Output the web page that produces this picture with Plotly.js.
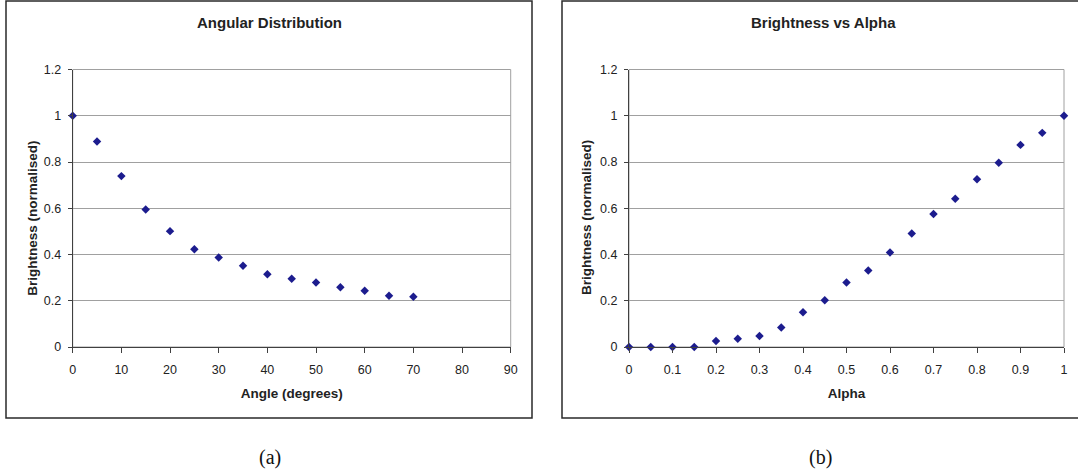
<!DOCTYPE html>
<html>
<head>
<meta charset="utf-8">
<script src="https://cdn.plot.ly/plotly-3.0.1.min.js"></script>
<style>
  html, body { margin: 0; padding: 0; background: #ffffff; }
  #chart { width: 1078px; height: 469px; }
</style>
</head>
<body>
<div id="chart"></div>
<script>
// ---- Data ----
const angleDeg = [0, 5, 10, 15, 20, 25, 30, 35, 40, 45, 50, 55, 60, 65, 70];
const angleBrightness = [1.0, 0.889, 0.739, 0.595, 0.501, 0.423, 0.387, 0.351, 0.315, 0.295, 0.279, 0.258, 0.243, 0.222, 0.217];

const alphaVals = [0, 0.05, 0.1, 0.15, 0.2, 0.25, 0.3, 0.35, 0.4, 0.45, 0.5, 0.55, 0.6, 0.65, 0.7, 0.75, 0.8, 0.85, 0.9, 0.95, 1.0];
const alphaBrightness = [0, 0, 0, 0, 0.026, 0.036, 0.048, 0.084, 0.150, 0.202, 0.279, 0.331, 0.409, 0.491, 0.575, 0.641, 0.725, 0.797, 0.874, 0.926, 1.0];

const angleTicks = [0, 10, 20, 30, 40, 50, 60, 70, 80, 90];
const angleTickText = ['0', '10', '20', '30', '40', '50', '60', '70', '80', '90'];
const alphaTicks = [0, 0.1, 0.2, 0.3, 0.4, 0.5, 0.6, 0.7, 0.8, 0.9, 1];
const alphaTickText = ['0', '0.1', '0.2', '0.3', '0.4', '0.5', '0.6', '0.7', '0.8', '0.9', '1'];
const brightTicks = [0, 0.2, 0.4, 0.6, 0.8, 1, 1.2];
const brightTickText = ['0', '0.2', '0.4', '0.6', '0.8', '1', '1.2'];

const titleA = 'Angular Distribution';
const titleB = 'Brightness vs Alpha';
const xTitleA = 'Angle (degrees)';
const xTitleB = 'Alpha';
const yTitle = 'Brightness (normalised)';
const captionA = '(a)';
const captionB = '(b)';

// ---- Layout helpers ----
const W = 1078, H = 469;
const px = x => x / W;
const py = y => 1 - y / H;

const FONT = '"Liberation Sans", Arial, sans-serif';
const markerColor = '#1c1c8e';

const traces = [
  {
    x: angleDeg, y: angleBrightness, xaxis: 'x', yaxis: 'y',
    type: 'scatter', mode: 'markers', cliponaxis: false,
    marker: { symbol: 'diamond', size: 6.5, color: markerColor },
    hoverinfo: 'x+y'
  },
  {
    x: alphaVals, y: alphaBrightness, xaxis: 'x2', yaxis: 'y2',
    type: 'scatter', mode: 'markers', cliponaxis: false,
    marker: { symbol: 'diamond', size: 6.5, color: markerColor },
    hoverinfo: 'x+y'
  }
];

function xAxis(domain, range, tv, tt, title) {
  return {
    domain: domain, range: range, tickvals: tv, ticktext: tt,
    showgrid: false, zeroline: false,
    showline: true, linecolor: '#404040', linewidth: 1,
    ticks: 'outside', ticklen: 5, tickwidth: 1, tickcolor: '#404040',
    ticklabelstandoff: 6,
    tickfont: { family: FONT, size: 12.5, color: '#222222' },
    title: { text: title, font: { family: FONT, size: 13.5, color: '#222222', weight: 'bold' }, standoff: 12 },
    fixedrange: true
  };
}
function yAxis(domain, anchor) {
  return {
    domain: domain, range: [0, 1.2], tickvals: brightTicks, ticktext: brightTickText,
    anchor: anchor,
    showgrid: true, gridcolor: '#a0a0a0', gridwidth: 1,
    zeroline: false,
    showline: true, linecolor: '#404040', linewidth: 1,
    ticks: 'outside', ticklen: 4, tickwidth: 1, tickcolor: '#404040',
    ticklabelstandoff: 4,
    tickfont: { family: FONT, size: 12.5, color: '#222222' },
    fixedrange: true
  };
}

const yDom = [py(347), py(69.5)];

const layout = {
  width: W, height: H,
  margin: { l: 0, r: 0, t: 0, b: 0, pad: 0 },
  paper_bgcolor: '#ffffff', plot_bgcolor: '#ffffff',
  showlegend: false,
  xaxis: Object.assign(xAxis([px(72.7), px(510.7)], [0, 90], angleTicks, angleTickText, xTitleA), { anchor: 'y' }),
  yaxis: yAxis(yDom, 'x'),
  xaxis2: Object.assign(xAxis([px(629), px(1064)], [0, 1], alphaTicks, alphaTickText, xTitleB), { anchor: 'y2' }),
  yaxis2: yAxis(yDom, 'x2'),
  shapes: [
    // plot-area borders (top/right grey)
    { type: 'rect', xref: 'x domain', yref: 'y domain', x0: 0, x1: 1, y0: 0, y1: 1,
      line: { color: '#a0a0a0', width: 1 }, layer: 'below' },
    { type: 'rect', xref: 'x2 domain', yref: 'y2 domain', x0: 0, x1: 1, y0: 0, y1: 1,
      line: { color: '#a0a0a0', width: 1 }, layer: 'below' },
    // panel frames
    { type: 'rect', xref: 'paper', yref: 'paper', x0: px(6), x1: px(532), y0: py(418), y1: py(1),
      line: { color: '#2a2a2a', width: 1.5 }, layer: 'below' },
    { type: 'rect', xref: 'paper', yref: 'paper', x0: px(562), x1: px(1090), y0: py(418), y1: py(1),
      line: { color: '#2a2a2a', width: 1.5 }, layer: 'below' }
  ],
  annotations: [
    { text: titleA, xref: 'paper', yref: 'paper', x: px(269), y: py(22.5), xanchor: 'center', yanchor: 'middle',
      showarrow: false, font: { family: FONT, size: 15, color: '#222222', weight: 'bold' } },
    { text: titleB, xref: 'paper', yref: 'paper', x: px(823.5), y: py(22.5), xanchor: 'center', yanchor: 'middle',
      showarrow: false, font: { family: FONT, size: 15, color: '#222222', weight: 'bold' } },
    { text: yTitle, xref: 'paper', yref: 'paper', x: px(32.8), y: py(218), xanchor: 'center', yanchor: 'middle',
      textangle: -90, showarrow: false, font: { family: FONT, size: 13.5, color: '#222222', weight: 'bold' } },
    { text: yTitle, xref: 'paper', yref: 'paper', x: px(587), y: py(218), xanchor: 'center', yanchor: 'middle',
      textangle: -90, showarrow: false, font: { family: FONT, size: 13.5, color: '#222222', weight: 'bold' } },
    { text: captionA, xref: 'paper', yref: 'paper', x: px(270), y: py(457), xanchor: 'center', yanchor: 'middle',
      showarrow: false, font: { family: '"Liberation Serif", "Times New Roman", serif', size: 20, color: '#111111' } },
    { text: captionB, xref: 'paper', yref: 'paper', x: px(820), y: py(457), xanchor: 'center', yanchor: 'middle',
      showarrow: false, font: { family: '"Liberation Serif", "Times New Roman", serif', size: 20, color: '#111111' } }
  ]
};

Plotly.newPlot('chart', traces, layout, { displayModeBar: false, staticPlot: true });
</script>
</body>
</html>
